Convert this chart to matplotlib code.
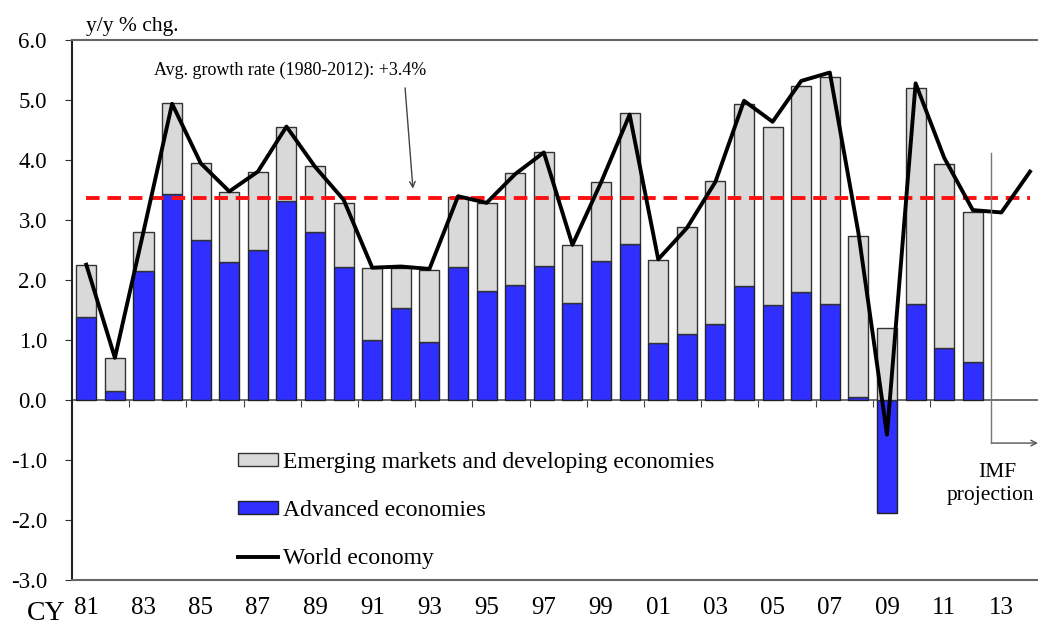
import matplotlib
matplotlib.use("Agg")
import matplotlib.pyplot as plt
import numpy as np

plt.rcParams["font.family"] = ["Liberation Serif", "DejaVu Serif"]

# calendar years 1981-2014 (two-digit labels)
years = ["81", "82", "83", "84", "85", "86", "87", "88", "89", "90",
         "91", "92", "93", "94", "95", "96", "97", "98", "99", "00",
         "01", "02", "03", "04", "05", "06", "07", "08", "09", "10",
         "11", "12", "13", "14"]

# contribution of advanced economies (81-12)
advanced = [1.38, 0.15, 2.15, 3.42, 2.66, 2.30, 2.50, 3.31, 2.80, 2.22,
            1.00, 1.53, 0.97, 2.21, 1.82, 1.92, 2.23, 1.62, 2.31, 2.60,
            0.94, 1.09, 1.26, 1.89, 1.58, 1.79, 1.60, 0.05, -1.88, 1.60,
            0.86, 0.63]

# contribution of emerging markets and developing economies (81-12)
emerging = [0.87, 0.55, 0.65, 1.53, 1.28, 1.16, 1.30, 1.24, 1.10, 1.05,
            1.20, 0.66, 1.20, 1.17, 1.45, 1.85, 1.89, 0.96, 1.31, 2.18,
            1.39, 1.78, 2.38, 3.03, 2.97, 3.43, 3.77, 2.68, 1.20, 3.60,
            3.06, 2.49]

# world economy growth (81-14, 13-14 IMF projection)
world = [2.25, 0.70, 2.80, 4.93, 3.94, 3.47, 3.80, 4.55, 3.88, 3.33,
         2.20, 2.22, 2.18, 3.39, 3.28, 3.76, 4.12, 2.58, 3.62, 4.75,
         2.34, 2.86, 3.63, 4.98, 4.63, 5.31, 5.45, 2.78, -0.58, 5.27,
         4.03, 3.16, 3.12, 3.80]

avg_growth = 3.36

x_bar = np.arange(len(advanced))
x_line = np.arange(len(world))
adv = np.array(advanced)
emg_bottom = np.clip(adv, 0, None)

fig = plt.figure(figsize=(10.38, 6.29), dpi=100)
ax = fig.add_axes([72 / 1038, 1 - 580 / 629, 1 - 72 / 1038, (580 - 39.5) / 629])

bar_adv = ax.bar(x_bar, adv, width=0.7, color="#2f2fff", edgecolor="#222222",
                 linewidth=1, zorder=2)
bar_emg = ax.bar(x_bar, emerging, width=0.7, bottom=emg_bottom, color="#d9d9d9",
                 edgecolor="#333333", linewidth=1, zorder=2)
line_world, = ax.plot(x_line, world, color="black", linewidth=2.8, zorder=4)

ax.hlines(avg_growth, 0, len(world) - 1, colors="#ff1010", linestyles=(0, (3.5, 2)),
          linewidth=2.8, zorder=3)
ax.axhline(0, color="#555555", linewidth=1.2, zorder=1)

ax.set_xlim(-0.5, 33.28)
ax.set_ylim(-3, 6)
ax.set_yticks(np.arange(-3, 6.1, 1))
ax.set_yticklabels(["%.1f" % v for v in np.arange(-3, 6.1, 1)])
ax.tick_params(axis="y", direction="out", length=5, pad=13, labelsize=16.5,
               color="#333333")
ax.set_xticks(x_line[::2])
ax.set_xticklabels(years[::2])
ax.tick_params(axis="x", length=0, pad=12, labelsize=18)

for s in ["top", "bottom"]:
    ax.spines[s].set_color("#666666")
    ax.spines[s].set_linewidth(1.5)
ax.spines["left"].set_color("#222222")
ax.spines["left"].set_linewidth(1.5)
ax.spines["right"].set_visible(False)

# ticks on the zero line, every two years
sec = ax.secondary_xaxis(3 / 9)
sec.set_xticks(np.arange(1.5, 31, 2))
sec.set_xticklabels([])
sec.tick_params(direction="out", length=5, color="#444444")
sec.spines["bottom"].set_visible(False)

fig.text(86 / 1038, 1 - 27 / 629, "y/y % chg.", fontsize=15.5, va="center")
fig.text(27 / 1038, 1 - 614 / 629, "CY", fontsize=20, va="center")

ax.text(2.37, 5.49, "Avg. growth rate (1980-2012): +3.4%", fontsize=13, va="center")
ax.annotate("", xy=(11.43, 3.47), xytext=(11.14, 5.24),
            arrowprops=dict(arrowstyle="->", color="#444444", lw=1))

ax.plot([31.65, 31.65], [4.11, -0.72], color="#777777", linewidth=1, zorder=5)
ax.annotate("", xy=(33.28, -0.72), xytext=(31.65, -0.72),
            arrowprops=dict(arrowstyle="->", color="#555555", lw=1,
                            shrinkA=0, shrinkB=0), annotation_clip=False)
ax.text(31.84, -1.21, "IMF", fontsize=15.5, ha="center", va="center")
ax.text(30.1, -1.6, "projection", fontsize=15.5, ha="left", va="center")

fig.legend([bar_emg, bar_adv, line_world],
           ["Emerging markets and developing economies", "Advanced economies",
            "World economy"],
           loc="upper left", bbox_to_anchor=(226 / 1038, 1 - 440 / 629),
           frameon=False, fontsize=17, handlelength=1.7, handleheight=0.5,
           handletextpad=0.2, labelspacing=1.15, borderpad=0)

fig.savefig("out.png", dpi=100)
